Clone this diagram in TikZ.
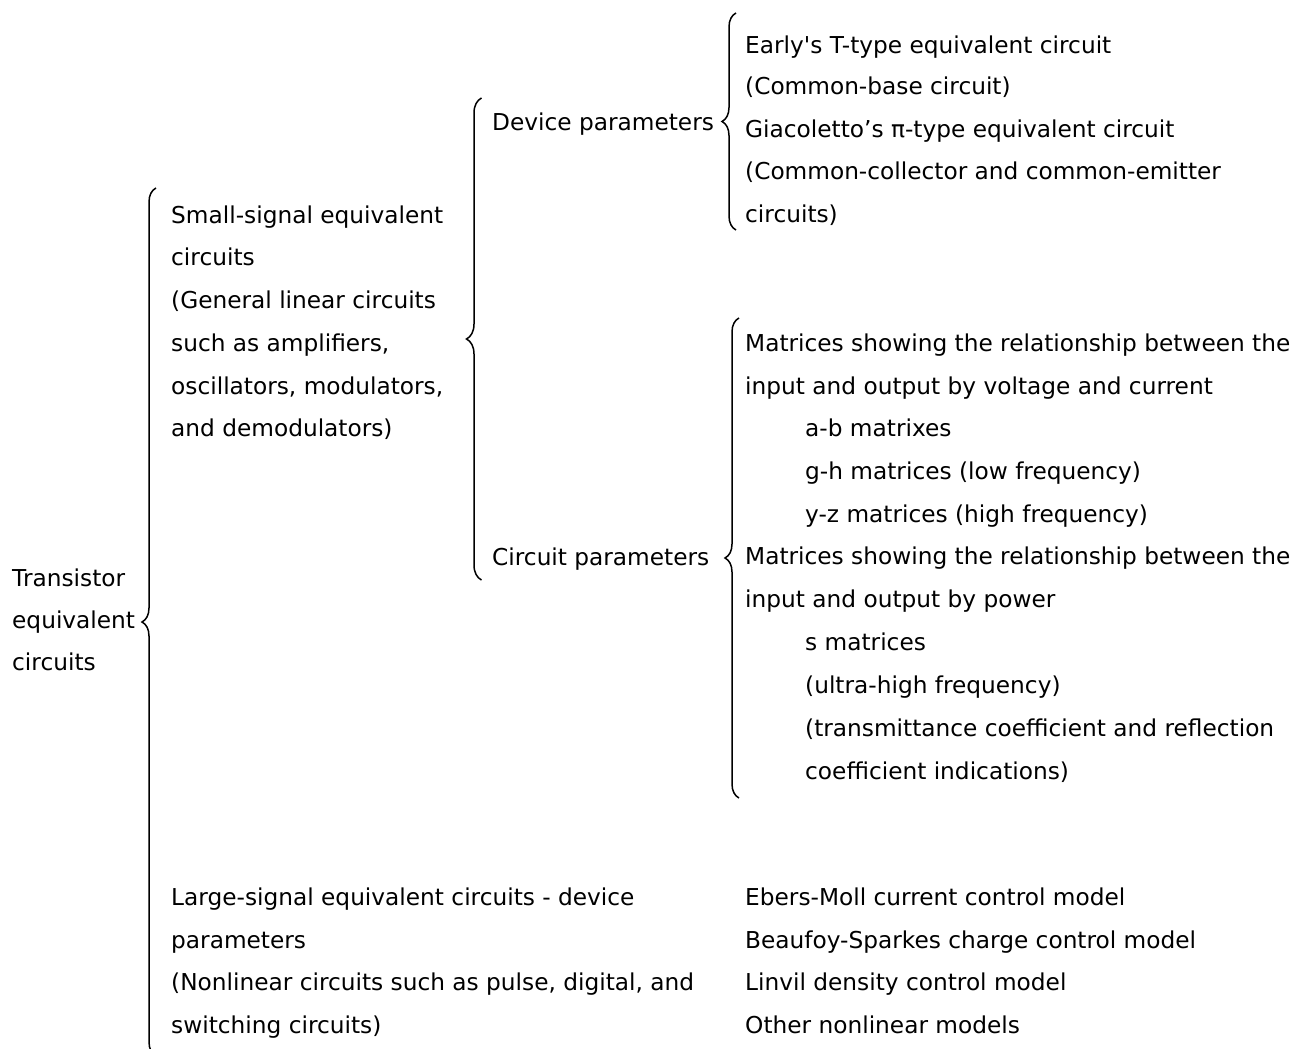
\documentclass[tikz,border=0pt]{standalone}
\usepackage{fontspec}
\setmainfont{DejaVu Sans}[Ligatures=TeXOff]
\usetikzlibrary{decorations.pathreplacing}

\begin{document}
\begin{tikzpicture}[x=1pt, y=-1pt,
    line/.style={anchor=base west, inner sep=0pt, font=\fontsize{23.25}{42}\selectfont},
    curly/.style={decorate, decoration={brace, amplitude=#1}, line width=1.5pt}]
  \useasboundingbox (0,0) rectangle (1306,1049);
  % root label: 
  \foreach \y/\txt [count = \i] in {578/Transistor, 620/equivalent, 662/circuits}
    \node [line] (root\i) at (12,\y+8) {\txt};
  % small-signal and large-signal groups: 
  \foreach \y/\txt [count = \i] in {215/{Small-signal equivalent}, 257/circuits,
      300/{(General linear circuits}, 343/{such as amplifiers,},
      386/{oscillators, modulators,}, 428/{and demodulators)}}
    \node [line] (small\i) at (171,\y+8) {\txt};
  \foreach \y/\txt [count = \i] in {897/{Large-signal equivalent circuits - device},
      940/parameters, 982/{(Nonlinear circuits such as pulse, digital, and},
      1025/{switching circuits)}}
    \node [line] (large\i) at (171,\y+8) {\txt};
  % parameter kinds: 
  \node [line] (device) at (492,122+8) {Device parameters};
  \node [line] (circuit) at (492,557+8) {Circuit parameters};
  % leaves: 
  \foreach \y/\txt [count = \i] in {45/{Early's T-type equivalent circuit},
      87/{(Common-base circuit)}, 129/{Giacoletto’s π-type equivalent circuit},
      171/{(Common-collector and common-emitter}, 214/{circuits)}}
    \node [line] (dev\i) at (745,\y+8) {\txt};
  \foreach \x/\y/\txt [count = \i] in {
      745/343/{Matrices showing the relationship between the},
      745/386/{input and output by voltage and current},
      805/428/{a-b matrixes}, 805/471/{g-h matrices (low frequency)},
      805/514/{y-z matrices (high frequency)},
      745/556/{Matrices showing the relationship between the},
      745/599/{input and output by power}, 805/642/{s matrices},
      805/685/{(ultra-high frequency)},
      805/728/{(transmittance coefficient and reflection},
      805/771/{coefficient indications)}}
    \node [line] (cir\i) at (\x,\y+8) {\txt};
  \foreach \y/\txt [count = \i] in {897/{Ebers-Moll current control model},
      940/{Beaufoy-Sparkes charge control model},
      982/{Linvil density control model}, 1025/{Other nonlinear models}}
    \node [line] (model\i) at (745,\y+8) {\txt};
  % braces: 
  \coordinate (roottop) at (156,188);
  \coordinate (rootbot) at (156,1056);
  \coordinate (smalltop) at (481.5,98);
  \coordinate (smallbot) at (481.5,580);
  \coordinate (devtop) at (736,13);
  \coordinate (devbot) at (736,230);
  \coordinate (cirtop) at (739,318);
  \coordinate (cirbot) at (739,798);
  \draw [curly=14] (rootbot) -- (roottop);
  \draw [curly=15] (smallbot) -- (smalltop);
  \draw [curly=14] (devbot) -- (devtop);
  \draw [curly=14] (cirbot) -- (cirtop);
\end{tikzpicture}
\end{document}
